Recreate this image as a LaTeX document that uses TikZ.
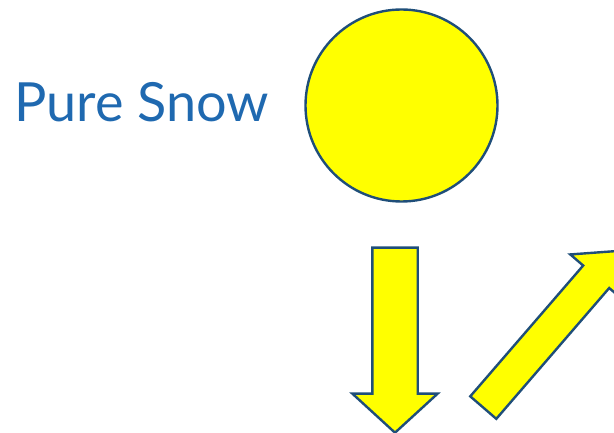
\documentclass[tikz,border=0pt]{standalone}
\usepackage{fontspec}
\setmainfont{Lato}
\usepackage{tikz}
\usetikzlibrary{shapes.geometric,shapes.arrows}
\definecolor{snowblue}{HTML}{1F69B0}
\definecolor{rimblue}{HTML}{1F4E79}
\definecolor{sunyellow}{HTML}{FFFF00}

\begin{document}
\begin{tikzpicture}[x=1pt,y=-1pt,
    sunfill/.style={fill=sunyellow,draw=rimblue,line width=2.4pt},
    ray/.style={sunfill,single arrow,inner xsep=0pt,anchor=tail}]
  \useasboundingbox (0,0) rectangle (614,433);
  \clip (0,0) rectangle (614,433);
  % title
  \node[anchor=base west,inner sep=0pt,text=snowblue,font=\fontsize{54}{60}\selectfont] (title) at (14,122) {Pure Snow};
  % sun
  \node[sunfill,circle,minimum size=192pt,inner sep=0pt] (sun) at (401.5,105.5) {};
  % incoming and reflected light
  \node[ray,inner ysep=21.5pt,single arrow head extend=20pt,single arrow tip angle=95,
        minimum height=185pt,rotate=-90] (incoming) at (395,246.5) {};
  \node[ray,inner ysep=16pt,single arrow head extend=17pt,single arrow tip angle=90,
        minimum height=207pt,rotate=49.2] (reflected) at (482.5,408.5) {};
\end{tikzpicture}
\end{document}
